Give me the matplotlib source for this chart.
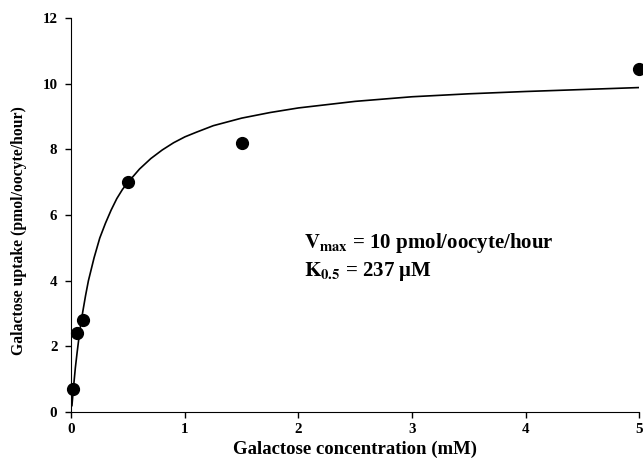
import numpy as np
import matplotlib.pyplot as plt

plt.rcParams['font.family'] = ['Liberation Serif', 'DejaVu Serif']
plt.rcParams['font.weight'] = 'bold'
plt.rcParams['mathtext.fontset'] = 'stix'

# measured uptake
conc = [0.01, 0.05, 0.1, 0.5, 1.5, 5.0]
uptake = [0.7, 2.4, 2.8, 7.0, 8.2, 10.45]

# fitted curve
fit_x = [0.005, 0.02, 0.035, 0.05, 0.075, 0.1, 0.125, 0.15, 0.2, 0.25, 0.3,
         0.35, 0.4, 0.45, 0.5, 0.6, 0.7, 0.8, 0.9, 1.0, 1.1, 1.25, 1.5,
         1.75, 2.0, 2.5, 3.0, 3.5, 4.0, 4.5, 5.0]
fit_y = [0.2, 0.8, 1.35, 1.8, 2.5, 3.05, 3.55, 4.0, 4.7, 5.3, 5.75,
         6.15, 6.5, 6.78, 7.0, 7.4, 7.72, 7.98, 8.2, 8.38, 8.52, 8.72, 8.95,
         9.12, 9.26, 9.46, 9.6, 9.69, 9.76, 9.82, 9.88]

fig = plt.figure(figsize=(6.43, 4.59), dpi=100)
ax = fig.add_axes([0.111, 0.102, 0.883, 0.859])

ax.plot(fit_x, fit_y, color='black', lw=1.2)
ax.plot(conc, uptake, 'o', color='black', ms=8.5, clip_on=False)

ax.set_xlim(0, 5)
ax.set_ylim(0, 12)
ax.set_xticks(range(0, 6))
ax.set_yticks(range(0, 13, 2))
ax.tick_params(direction='out', length=4, width=1, labelsize=10.8)
ax.tick_params(axis='x', pad=4)
ax.tick_params(axis='y', pad=6)
for lab in ax.get_xticklabels() + ax.get_yticklabels():
    lab.set_fontweight('bold')
ax.spines['top'].set_visible(False)
ax.spines['right'].set_visible(False)

ax.set_xlabel('Galactose concentration (mM)', fontsize=13.5, fontweight='bold')
ax.xaxis.set_label_coords(0.5, -0.072)
ax.set_ylabel('Galactose uptake (pmol/oocyte/hour)', fontsize=11.3, fontweight='bold')
ax.yaxis.set_label_coords(-0.078, 0.46)

ax.text(2.05, 5.0, r'$\mathbf{V_{max}}$ = 10 pmol/oocyte/hour', fontsize=15, fontweight='bold')
ax.text(2.05, 4.15, r'$\mathbf{K_{0.5}}$ = 237 μM', fontsize=15, fontweight='bold')

fig.savefig('out.png', dpi=100)
